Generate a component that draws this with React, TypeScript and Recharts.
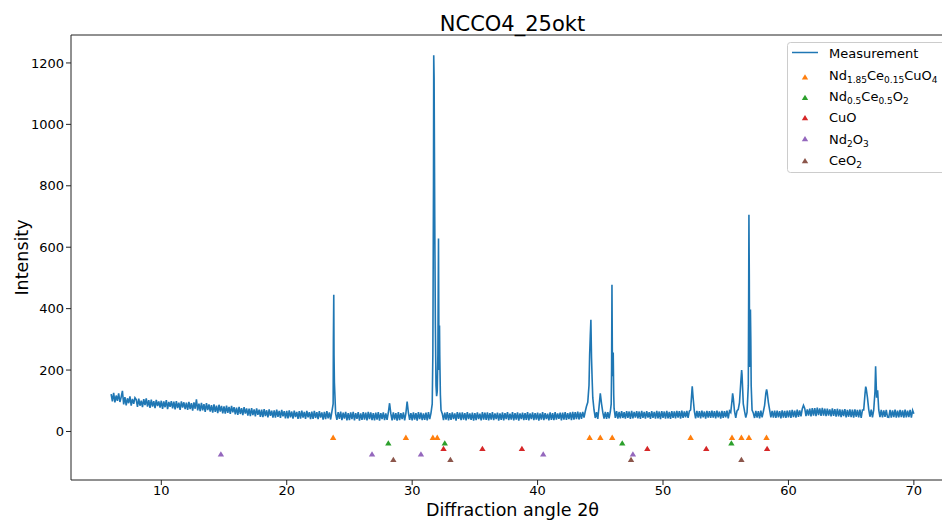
import React from 'react';
import { ComposedChart, Line, Scatter, XAxis, YAxis, ReferenceLine, Label } from 'recharts';

// measured pattern, one value every 0.1 deg from 6.0 to 70.0 (one row per degree)
const startAngle = 6;
const angleStep = 0.1;
const intensity = [
  122, 98, 126, 95, 117, 100, 124, 96, 112, 132, // 6
  88, 112, 85, 108, 92, 114, 84, 106, 90, 110, // 7
  104, 80, 107, 84, 100, 79, 105, 86, 108, 81, // 8
  102, 77, 104, 81, 99, 76, 103, 83, 98, 78, // 9
  100, 74, 98, 79, 102, 73, 96, 80, 99, 75, // 10
  97, 72, 99, 76, 94, 70, 98, 78, 95, 73, // 11
  94, 70, 96, 73, 92, 68, 95, 74, 105, 69, // 12
  91, 66, 93, 69, 89, 64, 92, 70, 88, 65, // 13
  86, 61, 88, 64, 84, 60, 87, 65, 83, 59, // 14
  82, 58, 84, 61, 80, 57, 83, 62, 79, 56, // 15
  78, 54, 80, 57, 76, 53, 79, 58, 75, 52, // 16
  74, 50, 76, 53, 72, 49, 75, 54, 71, 48, // 17
  71, 47, 73, 50, 69, 46, 72, 51, 68, 45, // 18
  69, 45, 71, 48, 67, 44, 70, 49, 66, 43, // 19
  67, 43, 69, 46, 65, 42, 68, 47, 64, 41, // 20
  66, 42, 68, 45, 64, 41, 67, 46, 63, 40, // 21
  65, 41, 67, 44, 63, 40, 66, 45, 62, 39, // 22
  64, 40, 66, 43, 62, 39, 65, 90, 160, 58, // 23
  38, 63, 41, 65, 37, 61, 42, 64, 36, 60, // 24
  37, 62, 40, 64, 36, 60, 41, 63, 35, 59, // 25
  38, 63, 39, 61, 36, 64, 40, 62, 37, 60, // 26
  36, 61, 39, 63, 35, 60, 40, 62, 37, 59, // 27
  38, 61, 92, 58, 36, 62, 39, 60, 35, 63, // 28
  37, 60, 40, 62, 36, 59, 97, 61, 38, 60, // 29
  36, 62, 39, 60, 35, 63, 40, 61, 37, 59, // 30
  38, 61, 36, 63, 40, 60, 90, 800, 700, 150, // 31
  130, 628, 250, 70, 58, 37, 61, 39, 63, 36, // 32
  60, 38, 62, 40, 59, 35, 63, 41, 61, 37, // 33
  62, 39, 60, 36, 63, 40, 59, 38, 61, 35, // 34
  60, 37, 62, 40, 58, 36, 63, 39, 61, 38, // 35
  62, 36, 60, 39, 63, 37, 59, 40, 61, 35, // 36
  59, 38, 62, 36, 60, 40, 63, 37, 58, 39, // 37
  63, 36, 60, 39, 62, 35, 59, 40, 61, 37, // 38
  60, 38, 63, 36, 59, 40, 62, 37, 60, 39, // 39
  61, 35, 59, 39, 63, 37, 60, 40, 58, 36, // 40
  62, 38, 60, 37, 63, 39, 59, 41, 61, 36, // 41
  61, 39, 63, 38, 60, 40, 62, 37, 64, 39, // 42
  63, 40, 65, 39, 62, 41, 64, 45, 65, 82, // 43
  95, 150, 310, 240, 110, 70, 44, 63, 41, 80, // 44
  124, 90, 62, 42, 64, 41, 63, 43, 65, 200, // 45
  220, 75, 44, 66, 42, 64, 43, 66, 44, 63, // 46
  42, 66, 44, 65, 41, 67, 43, 64, 45, 66, // 47
  43, 65, 41, 67, 44, 64, 42, 66, 45, 63, // 48
  41, 66, 44, 64, 42, 67, 43, 65, 40, 66, // 49
  44, 65, 42, 67, 43, 64, 41, 66, 44, 65, // 50
  43, 67, 45, 66, 42, 68, 44, 65, 46, 67, // 51
  44, 66, 70, 130, 110, 65, 43, 67, 45, 66, // 52
  43, 68, 46, 65, 42, 67, 45, 66, 44, 68, // 53
  45, 66, 43, 68, 46, 65, 42, 67, 44, 66, // 54
  46, 68, 43, 67, 62, 100, 110, 66, 44, 67, // 55
  72, 95, 160, 185, 90, 66, 45, 62, 150, 280, // 56
  300, 70, 60, 44, 67, 45, 66, 43, 68, 46, // 57
  65, 85, 125, 130, 95, 70, 46, 67, 45, 68, // 58
  44, 68, 46, 66, 43, 69, 45, 67, 44, 68, // 59
  46, 69, 44, 70, 47, 68, 45, 71, 48, 69, // 60
  49, 73, 85, 75, 50, 72, 52, 74, 49, 76, // 61
  52, 76, 50, 78, 53, 75, 51, 77, 52, 74, // 62
  50, 74, 52, 72, 49, 75, 51, 73, 48, 74, // 63
  49, 72, 47, 71, 50, 73, 46, 70, 48, 72, // 64
  47, 71, 45, 72, 48, 70, 46, 71, 44, 70, // 65
  70, 120, 140, 110, 72, 48, 71, 46, 70, 130, // 66
  150, 130, 70, 47, 70, 46, 69, 48, 70, 47, // 67
  46, 70, 45, 69, 47, 71, 45, 68, 46, 70, // 68
  47, 69, 45, 71, 46, 68, 47, 70, 45, 69, // 69
  58, // 70
];

// extra points on the sharp peaks (angle, intensity)
const peakDetail: [number, number][] = [
  [23.72, 300], [23.75, 445], [23.77, 250],
  [31.65, 250], [31.72, 1225], [31.75, 1150], [31.85, 350],
  [31.95, 115], [32.05, 250], [32.14, 200], [32.18, 345], [32.25, 120],
  [44.15, 250], [44.25, 364], [44.35, 170],
  [45.87, 90], [45.93, 478], [45.97, 180], [46.03, 257], [46.07, 120],
  [52.33, 147],
  [55.55, 124],
  [56.27, 200],
  [56.83, 450], [56.85, 706], [56.88, 500], [56.93, 210], [56.97, 397], [57.03, 150],
  [58.26, 137],
  [66.16, 146],
  [66.95, 212], [67.03, 110], [67.11, 134],
];

// reference reflections (2theta) and the level they are drawn at
const nccoPeaks = [23.7, 29.5, 31.65, 32.0, 44.15, 45.0, 45.95, 52.2, 55.5, 56.25, 56.85, 58.25];
const ndCeO2Peaks = [28.1, 32.6, 46.75, 55.45];
const cuoPeaks = [32.5, 35.6, 38.75, 48.75, 53.45, 58.3];
const nd2o3Peaks = [14.75, 26.8, 30.7, 40.45, 47.6];
const ceo2Peaks = [28.5, 33.05, 47.45, 56.25];

const nccoLevel = -20;
const ndCeO2Level = -38;
const cuoLevel = -56;
const nd2o3Level = -74;
const ceo2Level = -92;

const xTicks = [10, 20, 30, 40, 50, 60, 70];
const yTicks = [0, 200, 400, 600, 800, 1000, 1200];

const measurement = [
  ...intensity.map((y, i) => ({ x: Math.round((startAngle + i * angleStep) * 100) / 100, y })),
  ...peakDetail.map(([x, y]) => ({ x, y })),
].sort((a, b) => a.x - b.x);

const toPoints = (angles: number[], level: number) => angles.map((x) => ({ x, y: level }));

const FONT = 'DejaVu Sans';
const BLUE = '#1f77b4';
const ORANGE = '#ff7f0e';
const GREEN = '#2ca02c';
const RED = '#d62728';
const PURPLE = '#9467bd';
const BROWN = '#8c564b';

const triangle = (color: string) => (props: any) => {
  const { cx, cy } = props;
  if (cx == null || cy == null) return <g />;
  return <path d={`M${cx},${cy - 3} L${cx + 3.2},${cy + 2.3} L${cx - 3.2},${cy + 2.3} Z`} fill={color} />;
};

const LegendTri = ({ x, y, color }: { x: number; y: number; color: string }) => (
  <path d={`M${x},${y - 3} L${x + 3.2},${y + 2.3} L${x - 3.2},${y + 2.3} Z`} fill={color} />
);

const Overlay = () => (
  <svg width={963} height={524} style={{ position: 'absolute', left: 0, top: 0, pointerEvents: 'none' }} fontFamily={FONT}>
    <text x={512.5} y={31} textAnchor="middle" fontSize={21} fill="#000">NCCO4_25okt</text>
    <rect x={787.5} y={42.5} width={162} height={130} rx={3} fill="#fff" fillOpacity={0.8} stroke="#cccccc" />
    <line x1={792} y1={52.5} x2={818} y2={52.5} stroke={BLUE} strokeWidth={1.5} />
    <text x={829} y={58} fontSize={13} fill="#000">Measurement</text>
    <LegendTri x={805} y={77.3} color={ORANGE} />
    <text x={829} y={79.5} fontSize={13} fill="#000">
      Nd<tspan fontSize={9} dy={3}>1.85</tspan><tspan dy={-3}>Ce</tspan><tspan fontSize={9} dy={3}>0.15</tspan>
      <tspan dy={-3}>CuO</tspan><tspan fontSize={9} dy={3}>4</tspan>
    </text>
    <LegendTri x={805} y={97.7} color={GREEN} />
    <text x={829} y={101} fontSize={13} fill="#000">
      Nd<tspan fontSize={9} dy={3}>0.5</tspan><tspan dy={-3}>Ce</tspan><tspan fontSize={9} dy={3}>0.5</tspan>
      <tspan dy={-3}>O</tspan><tspan fontSize={9} dy={3}>2</tspan>
    </text>
    <LegendTri x={805} y={118} color={RED} />
    <text x={829} y={122.3} fontSize={13} fill="#000">CuO</text>
    <LegendTri x={805} y={139} color={PURPLE} />
    <text x={829} y={143.5} fontSize={13} fill="#000">
      Nd<tspan fontSize={9} dy={3}>2</tspan><tspan dy={-3}>O</tspan><tspan fontSize={9} dy={3}>3</tspan>
    </text>
    <LegendTri x={805} y={161} color={BROWN} />
    <text x={829} y={164.5} fontSize={13} fill="#000">
      CeO<tspan fontSize={9} dy={3}>2</tspan>
    </text>
  </svg>
);

const App: React.FC = () => {
  const tickStyle = { fontSize: 13, fill: '#000', fontFamily: FONT };
  return (
    <div style={{ position: 'fixed', left: 0, top: 0, width: 942, height: 524, overflow: 'hidden', background: '#fff' }}>
      <div style={{ position: 'relative', width: 963, height: 524 }}>
        <ComposedChart width={963} height={524} margin={{ top: 35, right: 9, bottom: 0, left: 9 }}>
          <XAxis
            type="number"
            dataKey="x"
            domain={[2.8, 73.2]}
            ticks={xTicks}
            allowDataOverflow
            height={44}
            tick={tickStyle}
            tickSize={5}
            tickMargin={1}
            stroke="#222"
          >
            <Label value="Diffraction angle 2θ" position="insideBottom" offset={8} style={{ fontSize: 17.5, fill: '#000', fontFamily: FONT }} />
          </XAxis>
          <YAxis
            type="number"
            dataKey="y"
            domain={[-158, 1291]}
            ticks={yTicks}
            allowDataOverflow
            width={62}
            tick={tickStyle}
            tickSize={5}
            tickMargin={2}
            stroke="#222"
          >
            <Label value="Intensity" angle={-90} position="insideLeft" offset={13} style={{ textAnchor: 'middle', fontSize: 17.5, fill: '#000', fontFamily: FONT }} />
          </YAxis>
          <ReferenceLine y={1291} stroke="#222" ifOverflow="extendDomain" />
          <Line data={measurement} dataKey="y" type="linear" stroke={BLUE} strokeWidth={1.6} dot={false} isAnimationActive={false} />
          <Scatter data={toPoints(nccoPeaks, nccoLevel)} dataKey="y" shape={triangle(ORANGE)} isAnimationActive={false} />
          <Scatter data={toPoints(ndCeO2Peaks, ndCeO2Level)} dataKey="y" shape={triangle(GREEN)} isAnimationActive={false} />
          <Scatter data={toPoints(cuoPeaks, cuoLevel)} dataKey="y" shape={triangle(RED)} isAnimationActive={false} />
          <Scatter data={toPoints(nd2o3Peaks, nd2o3Level)} dataKey="y" shape={triangle(PURPLE)} isAnimationActive={false} />
          <Scatter data={toPoints(ceo2Peaks, ceo2Level)} dataKey="y" shape={triangle(BROWN)} isAnimationActive={false} />
        </ComposedChart>
        <Overlay />
      </div>
    </div>
  );
};

export default App;
